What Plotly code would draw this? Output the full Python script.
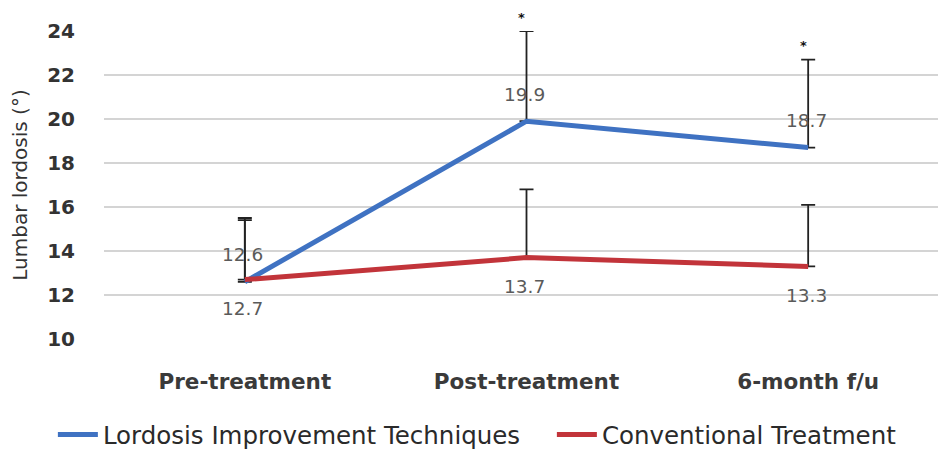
import plotly.graph_objects as go

categories = ["Pre-treatment", "Post-treatment", "6-month f/u"]
lit_values = [12.6, 19.9, 18.7]
lit_err = [2.9, 4.1, 4.0]
conv_values = [12.7, 13.7, 13.3]
conv_err = [2.7, 3.1, 2.8]
significant = [False, True, True]
y_ticks = [10, 12, 14, 16, 18, 20, 22, 24]

BLUE = "#3F72C2"
RED = "#C2343A"
FONT = "DejaVu Sans"

fig = go.Figure()
# error bars (upper only), drawn beneath the lines
for vals, errs in ((lit_values, lit_err), (conv_values, conv_err)):
    fig.add_trace(go.Scatter(
        x=categories, y=vals, mode="markers", showlegend=False, hoverinfo="skip",
        marker=dict(size=1, opacity=0),
        error_y=dict(type="data", symmetric=False, array=errs, arrayminus=[0] * 3,
                     color="#222222", thickness=1.8, width=7),
    ))

fig.add_trace(go.Scatter(
    x=categories, y=lit_values, mode="lines", name="Lordosis Improvement Techniques",
    line=dict(color=BLUE, width=5), legendwidth=444,
))
fig.add_trace(go.Scatter(
    x=categories, y=conv_values, mode="lines", name="Conventional Treatment",
    line=dict(color=RED, width=5),
))

for c, v in zip(categories, lit_values):
    fig.add_annotation(x=c, y=v, text=f"{v:.1f}", showarrow=False, yshift=27, xshift=-2,
                       font=dict(size=18.5, color="#5a5a5a", family=FONT))
for c, v in zip(categories, conv_values):
    fig.add_annotation(x=c, y=v, text=f"{v:.1f}", showarrow=False, yshift=-29, xshift=-2,
                       font=dict(size=18.5, color="#5a5a5a", family=FONT))
for c, v, e, s in zip(categories, lit_values, lit_err, significant):
    if s:
        fig.add_annotation(x=c, y=v + e, text="<b>*</b>", showarrow=False, yshift=14, xshift=-5,
                           font=dict(size=13, color="#111111", family=FONT))

fig.update_layout(
    width=946, height=454,
    margin=dict(l=96, r=5, t=23, b=119),
    plot_bgcolor="white", paper_bgcolor="white",
    font=dict(family=FONT, color="#3a3a3a"),
    showlegend=True,
    legend=dict(orientation="h", x=-0.0605, xanchor="left", y=-0.31, yanchor="middle",
                font=dict(size=24.5, color="#2a2a2a", family=FONT),
                itemwidth=40, tracegroupgap=0),
    xaxis=dict(showgrid=False, zeroline=False, showline=False, ticks="",
               automargin=False, ticklabelstandoff=27,
               tickfont=dict(size=21.5, color="#3a3a3a", family=FONT, weight="bold"),
               range=[-0.5, 2.5]),
    yaxis=dict(range=[10, 24], tickvals=y_ticks, showgrid=True, gridcolor="#D4D4D4",
               gridwidth=2, zeroline=False, showline=False, ticks="",
               automargin=False, ticklabelstandoff=28,
               tickfont=dict(size=20, color="#333333", family=FONT, weight="bold"),
               title=dict(text="Lumbar lordosis (°)",
                          font=dict(size=20, color="#333333", family=FONT), standoff=14)),
)

fig.write_html("out.html")
